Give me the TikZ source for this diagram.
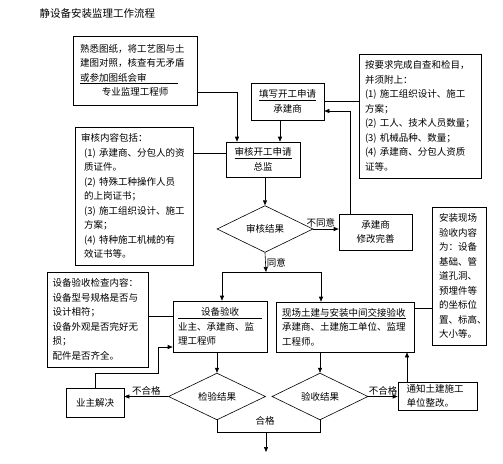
\documentclass[tikz,border=0pt]{standalone}
\usepackage{fontspec}
\setmainfont{Noto Sans CJK SC}
\usetikzlibrary{shapes.geometric,arrows.meta}
\begin{document}
\begin{tikzpicture}[x=1pt, y=-1pt, line width=0.6pt, >={Triangle[length=5pt,width=4pt]},
    box/.style={draw, rectangle, inner sep=0pt, align=left, font=\fontsize{9.5}{14.5}\selectfont},
    cbox/.style={box, align=center},
    decision/.style={draw, diamond, inner sep=0pt, font=\fontsize{9.5}{12}\selectfont},
    lab/.style={font=\fontsize{9.5}{12}\selectfont, inner sep=1pt}]
    \useasboundingbox (0,0) rectangle (503,463);
    % Title
    \node[anchor=west, font=\fontsize{10.5}{12}\selectfont] (title) at (36,14) {静设备安装监理工作流程};

    % Preparation
    \node[box, minimum width=124, minimum height=69, text width=110] (familiar) at (135,70.5)
        {熟悉图纸，将工艺图与土\\建图对照，核查有无矛盾\\\underline{\makebox[98pt][l]{或参加图纸会审}}\\\makebox[110pt]{专业监理工程师}};
    \node[cbox, minimum width=73, minimum height=37, text width=66] (fill) at (287.5,101.5)
        {\underline{填写开工申请}\\承建商};
    \node[box, minimum width=122, minimum height=124, text width=110] (selfcheck) at (420,116)
        {按要求完成自查和检目，\\并须附上：\\(1)~施工组织设计、施工\\方案；\\(2)~工人、技术人员数量；\\(3)~机械品种、数量；\\(4)~承建商、分包人资质\\证等。};

    % Review
    \node[cbox, minimum width=74, minimum height=35, text width=66] (review) at (263,159.5)
        {\underline{审核开工申请}\\总监};
    \node[box, minimum width=118, minimum height=138, text width=106] (reviewlist) at (134,196)
        {审核内容包括：\\\ (1)~承建商、分包人的资\\\ 质证件。\\\ (2)~特殊工种操作人员\\\ 的上岗证书；\\\ (3)~施工组织设计、施工\\\ 方案；\\\ (4)~特种施工机械的有\\\ 效证书等。};
    \node[decision, minimum width=96, minimum height=42] (result) at (265,229) {审核结果};
    \node[cbox, minimum width=73, minimum height=36, text width=66] (revise) at (375.5,232)
        {承建商\\修改完善};

    % Acceptance
    \node[box, minimum width=94, minimum height=51, text width=84] (equip) at (220,326.5)
        {\underline{\makebox[84pt]{设备验收}}\\业主、承建商、监\\理工程师};
    \node[box, minimum width=101, minimum height=95, text width=90] (equiplist) at (97.5,319.5)
        {设备验收检查内容：\\设备型号规格是否与\\设计相符；\\设备外观是否完好无\\损；\\配件是否齐全。};
    \node[box, minimum width=138, minimum height=50, text width=126] (handover) at (345,327)
        {\underline{现场土建与安装中间交接验收}\\承建商、土建施工单位、监理\\工程师。};
    \node[box, minimum width=54, minimum height=138, text width=40] (handlist) at (459,276)
        {安装现场\\验收内容\\为：设备\\基础、管\\道孔洞、\\预埋件等\\的坐标位\\置、标高、\\大小等。};

    % Results
    \node[decision, minimum width=97, minimum height=43] (check) at (217,396.5) {检验结果};
    \node[decision, minimum width=96, minimum height=43] (accept) at (320,396.5) {验收结果};
    \node[cbox, minimum width=58, minimum height=29] (owner) at (95,402.5) {业主解决};
    \node[box, minimum width=79, minimum height=28, text width=62] (notify) at (437.5,396)
        {通知土建施工\\单位整改。};
    \node[lab] (pass) at (265,421) {合格};

    \coordinate (k1) at (237,92);
    \coordinate (k2) at (280,0);
    \coordinate (k3) at (0,153);
    \coordinate (k4) at (350,111);
    \coordinate (k5) at (266,272);
    \coordinate (k6) at (222,272);
    \coordinate (k7) at (321,272);
    \coordinate (k8) at (0,316);
    \coordinate (k9) at (0,308);
    \coordinate (k10) at (158,373);
    \coordinate (k11) at (158,347);
    \coordinate (k12) at (407,0);
    \coordinate (k13) at (266,432);
    \coordinate (k14) at (266,452);

    \draw[->] (familiar.east |- k1) -- (k1) -- (k1 |- review.north);
    \draw[->] (fill.south -| k2) -- (review.north -| k2);
    \draw (selfcheck.west |- fill.east) -- (fill.east);
    \draw (reviewlist.east |- k3) -- (review.west |- k3);
    \draw[->] (review.south -| result.north) -- (result.north);
    \draw[->] (result.east) -- (revise.west |- result.east) node[lab, pos=0.3, above] {不同意};
    \draw[->] (revise.north -| k4) -- (k4) -- (fill.east |- k4);
    \draw[->] (result.south) -- (k5) node[lab, midway, anchor=west] {同意};
    \draw[<->] (k6 |- equip.north) -- (k6) -- (k7) -- (k7 |- handover.north);

    \draw (equiplist.east |- k8) -- (equip.west |- k8);
    \draw (handlist.west |- k9) -- (handover.east |- k9);
    \draw[->] (equip.south -| check.north) -- (check.north);
    \draw[->] (handover.south -| accept.north) -- (accept.north);

    \draw[->] (check.west) -- (owner.east |- check.west) node[lab, midway, above] {不合格};
    \draw[->] (owner.north) |- (k10) -- (k11) -- (equip.west |- k11);
    \draw[->] (accept.east) -- (notify.west |- accept.east) node[lab, midway, above] {不合格};
    \draw[->] (notify.north -| k12) -- (handover.south -| k12);

    % Pass
    \draw (check.south) -- (check.south |- k13) -- (accept.south |- k13) -- (accept.south);
    \draw[->] (k13) -- (k14);
\end{tikzpicture}
\end{document}
